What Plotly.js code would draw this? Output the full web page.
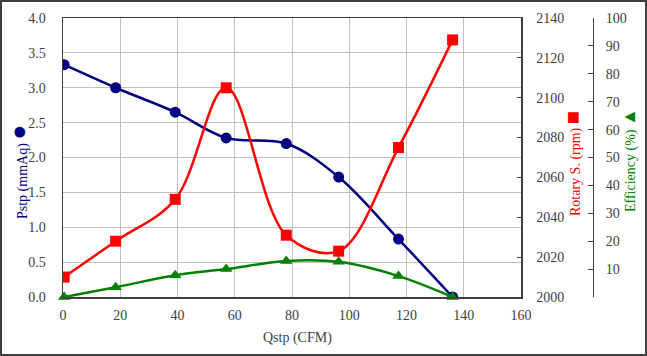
<!DOCTYPE html>
<html>
<head>
<meta charset="utf-8">
<script src="https://cdn.plot.ly/plotly-3.0.1.min.js"></script>
<style>
  html, body { margin: 0; padding: 0; background: #fff; }
  #wrap { position: relative; width: 647px; height: 356px; }
  #chart { width: 647px; height: 356px; }
  #frame { position: absolute; left: 0; top: 0; width: 647px; height: 356px; box-sizing: border-box; border: 2px solid #404040; pointer-events: none; }
</style>
</head>
<body>
<div id="wrap"><div id="chart"></div><div id="frame"></div></div>
<script>
// Data
const qstp = [0.4, 18.4, 39.2, 57.0, 78.0, 96.3, 117.2, 136.1];   // CFM
const pstp = [3.33, 3.00, 2.65, 2.28, 2.20, 1.72, 0.83, 0.00];    // mmAq
const rotary = [2010, 2028, 2049, 2105, 2031, 2023, 2075, 2129];  // rpm
const efficiency = [0, 3.5, 7.8, 10.0, 12.9, 12.6, 7.5, 0];       // %

const effTickVals = [0, 10, 20, 30, 40, 50, 60, 70, 80, 90, 100];
const effTickText = ['', '10', '20', '30', '40', '50', '60', '70', '80', '90', '100'];

const W = 647, H = 356;
const L = 63, R = 10, T = 18, B = 59;
const pw = W - L - R, ph = H - T - B;
const px = v => (v - L) / pw;
const py = v => (H - B - v) / ph;

const serif = '"Liberation Serif", "Times New Roman", serif';
const tickFont = { family: serif, size: 14, color: '#404040' };

const traces = [
  {
    x: qstp, y: pstp, name: 'Pstp', type: 'scatter', mode: 'lines+markers',
    line: { color: '#000080', width: 2.5, shape: 'spline', smoothing: 1 },
    marker: { color: '#000080', size: 11, symbol: 'circle' },
    xaxis: 'x', yaxis: 'y'
  },
  {
    x: qstp, y: rotary, name: 'Rotary S.', type: 'scatter', mode: 'lines+markers',
    line: { color: '#ff0000', width: 2.5, shape: 'spline', smoothing: 1 },
    marker: { color: '#ff0000', size: 11, symbol: 'square' },
    xaxis: 'x', yaxis: 'y2'
  },
  {
    x: qstp, y: efficiency, name: 'Efficiency', type: 'scatter', mode: 'lines+markers',
    line: { color: '#008000', width: 2.5, shape: 'spline', smoothing: 1 },
    marker: { color: '#008000', size: 11, symbol: 'triangle-up' },
    xaxis: 'x', yaxis: 'y3', cliponaxis: false
  }
];

const layout = {
  width: W, height: H,
  margin: { l: L, r: R, t: T, b: B, pad: 0 },
  paper_bgcolor: '#ffffff', plot_bgcolor: '#ffffff',
  showlegend: false,
  font: { family: serif, size: 14, color: '#404040' },
  xaxis: {
    domain: [0, (521 - L) / pw],
    range: [0, 160], dtick: 20, tick0: 0,
    showgrid: true, gridcolor: '#c0c0c0', gridwidth: 1,
    showline: true, linecolor: '#404040', linewidth: 1.5, mirror: true,
    ticks: '', zeroline: false,
    tickfont: tickFont, ticklabelstandoff: 5
  },
  yaxis: {
    range: [0, 4], dtick: 0.5, tick0: 0, tickformat: '.1f',
    showgrid: true, gridcolor: '#c0c0c0', gridwidth: 1,
    showline: true, linecolor: '#404040', linewidth: 1.5,
    ticks: '', zeroline: false,
    tickfont: tickFont, ticklabelstandoff: 13
  },
  yaxis2: {
    overlaying: 'y', side: 'right', anchor: 'x',
    range: [2000, 2140], dtick: 20, tick0: 2000,
    showgrid: false, zeroline: false,
    showline: true, linecolor: '#404040', linewidth: 1.5,
    ticks: 'inside', ticklen: 4, tickcolor: '#404040',
    tickfont: tickFont, ticklabelstandoff: 11
  },
  yaxis3: {
    overlaying: 'y', side: 'right', anchor: 'free', position: px(593),
    range: [0, 100], tickvals: effTickVals, ticktext: effTickText,
    showgrid: false, zeroline: false,
    showline: true, linecolor: '#404040', linewidth: 1,
    ticks: 'inside', ticklen: 5, tickcolor: '#404040',
    tickfont: tickFont, ticklabelstandoff: 9
  },
  annotations: [
    {
      text: 'Qstp (CFM)', xref: 'paper', yref: 'paper',
      x: px(297), y: py(338), xanchor: 'center', yanchor: 'middle',
      showarrow: false, font: { family: serif, size: 14, color: '#404040' }
    },
    {
      text: 'Pstp (mmAq) <span style="font-size:25px">●</span>', xref: 'paper', yref: 'paper',
      x: px(18), y: py(172), xanchor: 'center', yanchor: 'middle', textangle: -90,
      showarrow: false, font: { family: serif, size: 14, color: '#000080' }
    },
    {
      text: 'Rotary S. (rpm) <span style="font-size:22px">■</span>', xref: 'paper', yref: 'paper',
      x: px(572), y: py(164), xanchor: 'center', yanchor: 'middle', textangle: -90,
      showarrow: false, font: { family: serif, size: 14, color: '#ff0000' }
    },
    {
      text: 'Efficiency (%) <span style="font-size:18px">▲</span>', xref: 'paper', yref: 'paper',
      x: px(629), y: py(160), xanchor: 'center', yanchor: 'middle', textangle: -90,
      showarrow: false, font: { family: serif, size: 14, color: '#008000' }
    }
  ]
};

Plotly.newPlot('chart', traces, layout, { staticPlot: true, displayModeBar: false });
</script>
</body>
</html>
